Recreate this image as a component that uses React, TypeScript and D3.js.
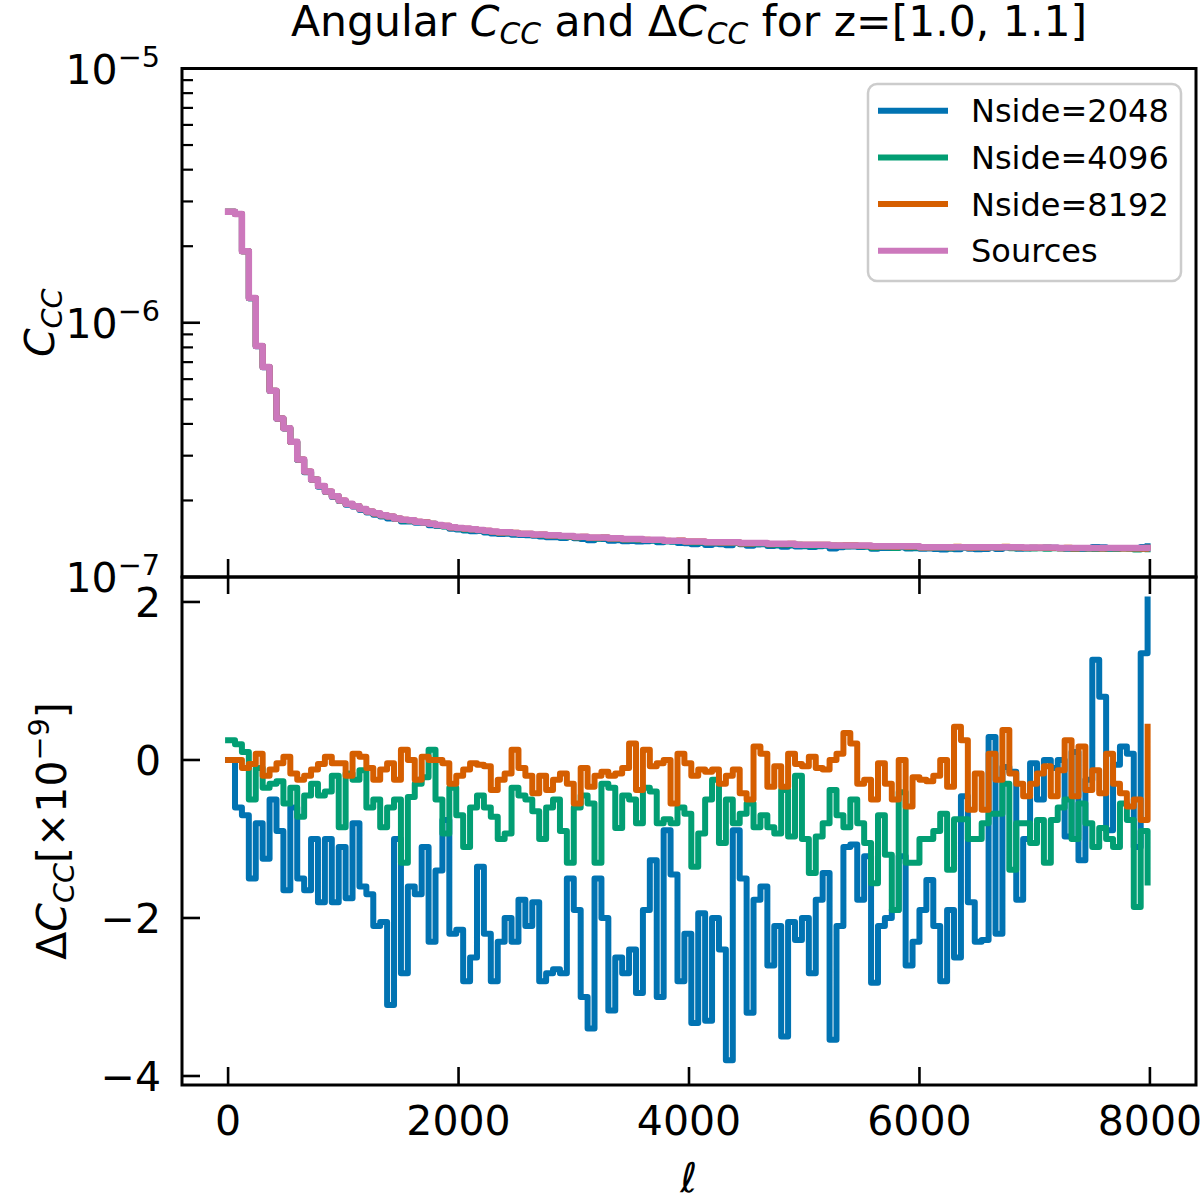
import React from 'react';
import * as d3 from 'd3';

// ---------- data ----------
const ELL_STEP = 60;
const ell: number[] = d3.range(0, 8000, ELL_STEP); // 0 .. 7980

const cSources = [
  2.73e-6, 2.68e-6, 1.91e-6, 1.25e-6, 8.1e-7, 6.7e-7, 5.4e-7, 4.2e-7, 3.85e-7, 3.4e-7,
  2.9e-7, 2.6e-7, 2.42e-7, 2.28e-7, 2.17e-7, 2.08e-7, 2.0e-7, 1.94e-7, 1.9e-7, 1.85e-7,
  1.81e-7, 1.78e-7, 1.75e-7, 1.73e-7, 1.7e-7, 1.68e-7, 1.67e-7, 1.65e-7, 1.64e-7, 1.62e-7,
  1.6e-7, 1.59e-7, 1.57e-7, 1.56e-7, 1.55e-7, 1.54e-7, 1.53e-7, 1.52e-7, 1.51e-7, 1.5e-7,
  1.5e-7, 1.49e-7, 1.48e-7, 1.48e-7, 1.47e-7, 1.47e-7, 1.46e-7, 1.46e-7, 1.45e-7, 1.45e-7,
  1.44e-7, 1.44e-7, 1.43e-7, 1.43e-7, 1.43e-7, 1.42e-7, 1.42e-7, 1.41e-7, 1.41e-7, 1.41e-7,
  1.40e-7, 1.40e-7, 1.40e-7, 1.39e-7, 1.39e-7, 1.39e-7, 1.38e-7, 1.38e-7, 1.38e-7, 1.37e-7,
  1.37e-7, 1.37e-7, 1.37e-7, 1.37e-7, 1.36e-7, 1.36e-7, 1.36e-7, 1.36e-7, 1.35e-7, 1.35e-7,
  1.35e-7, 1.35e-7, 1.34e-7, 1.34e-7, 1.34e-7, 1.34e-7, 1.34e-7, 1.33e-7, 1.33e-7, 1.33e-7,
  1.33e-7, 1.33e-7, 1.33e-7, 1.32e-7, 1.32e-7, 1.32e-7, 1.32e-7, 1.32e-7, 1.32e-7, 1.32e-7,
  1.31e-7, 1.31e-7, 1.31e-7, 1.31e-7, 1.31e-7, 1.31e-7, 1.31e-7, 1.31e-7, 1.31e-7, 1.31e-7,
  1.31e-7, 1.31e-7, 1.31e-7, 1.31e-7, 1.31e-7, 1.305e-7, 1.305e-7, 1.305e-7, 1.305e-7, 1.305e-7,
  1.30e-7, 1.30e-7, 1.30e-7, 1.30e-7, 1.30e-7, 1.30e-7, 1.30e-7, 1.30e-7, 1.30e-7, 1.30e-7,
  1.30e-7, 1.30e-7, 1.30e-7, 1.30e-7,
];

// Delta C_CC in units of 1e-9
const d2048 = [
  0.0, -0.6, -0.7, -1.5, -0.8, -1.25, -0.5, -0.9, -1.65, -0.6,
  -1.5, -1.65, -1.0, -1.8, -1.0, -1.8, -1.1, -1.75, -0.8, -1.6,
  -1.7, -2.1, -2.05, -3.1, -1.0, -2.7, -1.6, -1.7, -1.1, -2.3,
  -1.4, -0.76, -2.2, -2.15, -2.8, -2.5, -1.35, -2.2, -2.8, -2.3,
  -2.0, -2.3, -1.77, -2.1, -1.8, -2.8, -2.7, -2.65, -2.7, -1.5,
  -1.9, -3.0, -3.4, -1.5, -2.0, -3.17, -2.5, -2.7, -2.4, -2.95,
  -1.9, -1.27, -3.0, -0.89, -1.45, -2.8, -2.2, -3.33, -1.94, -3.3,
  -2.0, -2.4, -3.8, -0.89, -1.5, -3.2, -1.77, -1.6, -2.6, -2.1,
  -3.5, -2.05, -2.28, -2.0, -2.7, -1.77, -1.43, -3.54, -2.1, -1.1,
  -1.07, -1.77, -1.22, -2.82, -2.1, -2.0, -1.9, -1.22, -2.6, -2.3,
  -1.9, -1.52, -2.1, -2.8, -1.9, -2.5, -0.46, -1.8, -2.3, -2.28,
  0.29, -2.2, -0.09, -0.15, -1.77, -1.0, -0.04, -0.5, 0.0, -0.1,
  0.0, -0.97, 0.1, -1.27, -0.25, 1.27, 0.8, -0.89, -0.06, 0.17,
  0.08, -1.1, 1.35, 2.03,
];

const d4096 = [
  0.25, 0.2, 0.1, -0.5, -0.1, -0.35, -0.3, -0.27, -0.55, -0.35,
  -0.72, -0.45, -0.3, -0.45, -0.4, -0.2, -0.85, -0.17, -0.25, -0.13,
  -0.6, -0.5, -0.85, -0.6, -0.5, -1.3, -0.47, -0.3, -0.22, 0.13,
  -0.5, -0.93, -0.35, -0.7, -1.1, -0.6, -0.45, -0.6, -0.72, -1.0,
  -0.93, -0.35, -0.45, -0.5, -0.65, -1.0, -0.6, -0.5, -0.9, -1.3,
  -0.6, -0.45, -0.55, -1.3, -0.3, -0.35, -0.86, -0.45, -0.5, -0.8,
  -0.35, -0.4, -0.8, -0.75, -0.8, -0.6, -0.68, -1.35, -0.93, -0.5,
  -0.25, -1.05, -0.5, -0.8, -0.68, -0.55, -0.85, -0.7, -0.85, -0.93,
  -0.38, -0.97, -0.2, -1.0, -1.43, -0.97, -0.8, -0.38, -0.7, -0.85,
  -0.5, -0.8, -1.05, -1.56, -0.7, -1.2, -1.9, -0.41, -1.3, -1.3,
  -1.0, -1.0, -0.9, -0.68, -1.39, -0.75, -0.75, -1.0, -1.0, -0.8,
  -0.68, -0.68, -0.3, -1.39, -0.8, -0.8, -1.05, -0.76, -1.3, -0.76,
  -0.6, -0.5, -1.0, -0.55, -0.8, -1.1, -0.86, -1.0, -1.1, -0.55,
  -0.76, -1.86, -0.9, -1.55,
];

const d8192 = [
  0.0, 0.0, -0.1, -0.05, 0.08, -0.2, -0.12, -0.04, 0.04, -0.17,
  -0.25, -0.2, -0.12, -0.05, 0.04, -0.04, -0.04, -0.2, 0.08, 0.04,
  -0.1, -0.25, -0.12, -0.04, -0.25, 0.13, 0.0, -0.25, 0.04, 0.0,
  0.0, -0.04, -0.3, -0.2, -0.12, -0.04, -0.06, -0.08, -0.38, -0.25,
  -0.17, 0.13, -0.1, -0.2, -0.42, -0.2, -0.38, -0.25, -0.17, -0.3,
  -0.55, -0.1, -0.34, -0.2, -0.15, -0.2, -0.17, -0.1, 0.21, -0.38,
  0.13, -0.08, -0.04, 0.0, -0.55, 0.08, -0.04, -0.2, -0.12, -0.15,
  -0.12, -0.3, -0.2, -0.12, -0.42, -0.5, 0.17, 0.08, -0.34, -0.08,
  -0.34, 0.08, -0.05, -0.08, 0.04, -0.1, -0.12, 0.0, 0.08, 0.34,
  0.21, -0.3, -0.25, -0.5, -0.04, -0.3, -0.5, 0.0, -0.59, -0.22,
  -0.25, -0.27, -0.2, 0.0, -0.34, 0.42, 0.25, -0.63, -0.17, -0.63,
  0.08, -0.25, 0.38, -0.17, -0.3, -0.46, -0.3, -0.17, -0.08, -0.46,
  -0.13, 0.25, -0.46, 0.17, -0.38, -0.13, -0.42, 0.08, -0.3, -0.42,
  -0.59, -0.5, -0.76, 0.42,
];

const seriesLabels = ['Nside=2048', 'Nside=4096', 'Nside=8192', 'Sources'];
const seriesColors = ['#0173b2', '#029e73', '#d55e00', '#cc78bc'];
const xTicks = [0, 2000, 4000, 6000, 8000];
const xTickLabels = ['0', '2000', '4000', '6000', '8000'];
const yTopMajor = [1e-5, 1e-6, 1e-7];
const yTopExp = ['−5', '−6', '−7'];
const minorMult = [2, 3, 4, 5, 6, 7, 8, 9];
const yBotTicks = [2, 0, -2, -4];
const yBotLabels = ['2', '0', '−2', '−4'];

// ---------- layout ----------
const FONT = 'DejaVu Sans, Verdana, sans-serif';
const L = 182, R = 1196;
const T1 = 68.5, B1 = 577, T2 = 577, B2 = 1085;
const FS = 41;
const TFS = 42.5;
const SUB = 0.7;
const LW = 6;

const x = d3.scaleLinear().domain([-400, 8400]).range([L, R]);
const yTop = d3.scaleLog().domain([1e-7, 1e-5]).range([B1, T1]);
const yBot = d3.scaleLinear().domain([-4.114, 2.316]).range([B2, T2]);

function stepPath(vals: number[], ys: (v: number) => number): string {
  return (
    d3
      .line<number>()
      .x((_, i) => x(ell[i]))
      .y((v) => ys(v))
      .curve(d3.curveStepAfter)(vals) || ''
  );
}

export default function App() {
  const deltas = [d2048, d4096, d8192];
  const topSeries = [
    ...deltas.map((d) => cSources.map((c, i) => c + d[i] * 1e-9)),
    cSources,
  ];
  const minorTicks: number[] = [];
  [1e-7, 1e-6].forEach((dec) => minorMult.forEach((m) => minorTicks.push(dec * m)));

  const tickStroke = { stroke: '#000', strokeWidth: 2.6 };

  return (
    <svg
      width={1200}
      height={1200}
      viewBox="0 0 1200 1200"
      style={{ position: 'absolute', left: 0, top: 0, background: '#fff' }}
      fontFamily={FONT}
    >
      <rect x={0} y={0} width={1200} height={1200} fill="#fff" />
      <defs>
        <clipPath id="clipTop">
          <rect x={L} y={T1} width={R - L} height={B1 - T1} />
        </clipPath>
        <clipPath id="clipBot">
          <rect x={L} y={T2} width={R - L} height={B2 - T2} />
        </clipPath>
      </defs>

      {/* Title */}
      <text x={(L + R) / 2} y={36} fontSize={TFS} textAnchor="middle" fill="#000">
        <tspan>Angular </tspan>
        <tspan fontStyle="italic">C</tspan>
        <tspan fontStyle="italic" fontSize={TFS * SUB} dy={8}>CC</tspan>
        <tspan dy={-8}> and Δ</tspan>
        <tspan fontStyle="italic">C</tspan>
        <tspan fontStyle="italic" fontSize={TFS * SUB} dy={8}>CC</tspan>
        <tspan dy={-8}> for z=[1.0, 1.1]</tspan>
      </text>

      {/* Top panel lines */}
      <g clipPath="url(#clipTop)">
        {topSeries.map((vals, si) => (
          <path
            key={'t' + si}
            d={stepPath(vals, (v) => yTop(v))}
            fill="none"
            stroke={seriesColors[si]}
            strokeWidth={si === 3 ? 6.5 : LW}
            strokeLinejoin="round"
            strokeLinecap="square"
          />
        ))}
      </g>

      {/* Bottom panel lines */}
      <g clipPath="url(#clipBot)">
        {deltas.map((vals, si) => (
          <path
            key={'b' + si}
            d={stepPath(vals, (v) => yBot(v))}
            fill="none"
            stroke={seriesColors[si]}
            strokeWidth={LW}
            strokeLinejoin="round"
            strokeLinecap="square"
          />
        ))}
      </g>

      {/* Top panel ticks */}
      {yTopMajor.map((v, i) => (
        <g key={'ytm' + i}>
          <line x1={L} x2={L + 18} y1={yTop(v)} y2={yTop(v)} {...tickStroke} />
          <text x={160} y={yTop(v) + 15} fontSize={FS} textAnchor="end" fill="#000">
            <tspan>10</tspan>
            <tspan fontSize={FS * SUB} dy={-17}>{yTopExp[i]}</tspan>
          </text>
        </g>
      ))}
      {minorTicks.map((v, i) => (
        <line key={'ymn' + i} x1={L} x2={L + 11} y1={yTop(v)} y2={yTop(v)} stroke="#000" strokeWidth={2.2} />
      ))}
      {xTicks.map((v, i) => (
        <line key={'xt1' + i} x1={x(v)} x2={x(v)} y1={B1} y2={B1 - 18} {...tickStroke} />
      ))}

      {/* Bottom panel ticks */}
      {yBotTicks.map((v, i) => (
        <g key={'yb' + i}>
          <line x1={L} x2={L + 18} y1={yBot(v)} y2={yBot(v)} {...tickStroke} />
          <text x={161} y={yBot(v) + 15} fontSize={FS} textAnchor="end" fill="#000">
            {yBotLabels[i]}
          </text>
        </g>
      ))}
      {xTicks.map((v, i) => (
        <g key={'xb' + i}>
          <line x1={x(v)} x2={x(v)} y1={T2} y2={T2 + 17} {...tickStroke} />
          <line x1={x(v)} x2={x(v)} y1={B2} y2={B2 - 18} {...tickStroke} />
          <text x={x(v)} y={1135} fontSize={FS} textAnchor="middle" fill="#000">
            {xTickLabels[i]}
          </text>
        </g>
      ))}

      {/* Spines */}
      <rect x={L} y={T1} width={R - L} height={B1 - T1} fill="none" stroke="#000" strokeWidth={3} />
      <rect x={L} y={T2} width={R - L} height={B2 - T2} fill="none" stroke="#000" strokeWidth={3} />

      {/* Legend */}
      <rect x={868} y={84} width={313} height={197} rx={9} ry={9} fill="#fff" fillOpacity={0.8} stroke="#cccccc" strokeWidth={2.5} />
      {seriesLabels.map((lab, i) => {
        const ly = 110.7 + i * 46.7;
        return (
          <g key={'lg' + i}>
            <line x1={878} x2={948} y1={ly} y2={ly} stroke={seriesColors[i]} strokeWidth={LW} />
            <text x={971} y={ly + 11.5} fontSize={32} fill="#000">
              {lab}
            </text>
          </g>
        );
      })}

      {/* Y label top */}
      <text transform={`translate(54, ${(T1 + B1) / 2}) rotate(-90)`} fontSize={FS} textAnchor="middle" fill="#000">
        <tspan fontStyle="italic">C</tspan>
        <tspan fontStyle="italic" fontSize={FS * SUB} dy={8}>CC</tspan>
      </text>

      {/* Y label bottom */}
      <text transform={`translate(66, ${(T2 + B2) / 2}) rotate(-90)`} fontSize={FS} textAnchor="middle" fill="#000">
        <tspan>Δ</tspan>
        <tspan fontStyle="italic">C</tspan>
        <tspan fontStyle="italic" fontSize={FS * SUB} dy={8}>CC</tspan>
        <tspan dy={-8}>[×10</tspan>
        <tspan fontSize={FS * SUB} dy={-17}>−9</tspan>
        <tspan dy={17}>]</tspan>
      </text>

      {/* X label */}
      <text x={(L + R) / 2} y={1192} fontSize={FS} textAnchor="middle" fontStyle="italic" fill="#000">
        ℓ
      </text>
    </svg>
  );
}
